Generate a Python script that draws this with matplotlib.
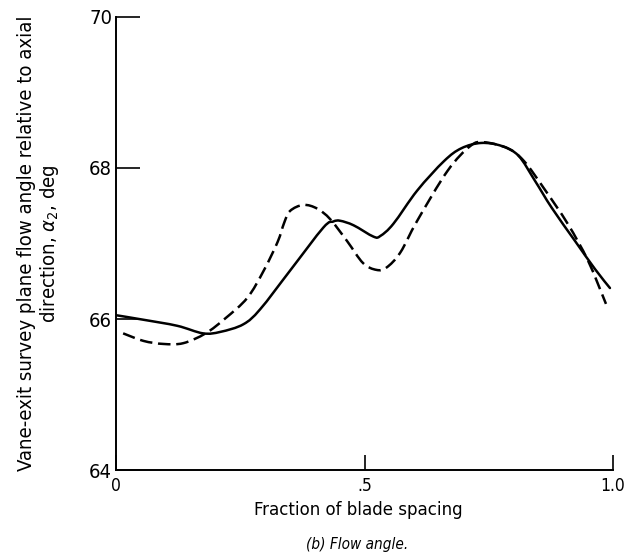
import matplotlib
matplotlib.use("Agg")
import matplotlib.pyplot as plt
import numpy as np
from matplotlib.path import Path
from matplotlib.patches import PathPatch

plt.rcParams['font.family'] = ['DejaVu Sans']
plt.rcParams['font.stretch'] = 'condensed'
plt.rcParams['mathtext.fontset'] = 'custom'
plt.rcParams['mathtext.it'] = 'DejaVu Sans:italic'
plt.rcParams['mathtext.rm'] = 'DejaVu Sans'

# Data
solid_x = [0.0, 0.055, 0.123, 0.175, 0.21, 0.256, 0.29, 0.35, 0.417, 0.437, 0.451,
           0.478, 0.518, 0.532, 0.558, 0.606, 0.66, 0.695, 0.735, 0.776, 0.81, 0.843,
           0.877, 0.924, 0.964, 0.994]
solid_y = [66.05, 65.99, 65.91, 65.81, 65.83, 65.93, 66.13, 66.64, 67.21, 67.29, 67.30,
           67.24, 67.09, 67.10, 67.26, 67.70, 68.09, 68.26, 68.33, 68.29, 68.16, 67.83,
           67.47, 67.03, 66.66, 66.41]
dash_x = [0.014, 0.055, 0.095, 0.135, 0.18, 0.22, 0.264, 0.297, 0.325, 0.338, 0.35,
          0.377, 0.405, 0.431, 0.465, 0.497, 0.524, 0.544, 0.572, 0.606, 0.667, 0.713,
          0.74, 0.788, 0.821, 0.861, 0.909, 0.95, 0.986]
dash_y = [65.81, 65.71, 65.67, 65.68, 65.81, 66.01, 66.28, 66.64, 67.02, 67.27, 67.43,
          67.51, 67.46, 67.32, 67.03, 66.74, 66.65, 66.68, 66.88, 67.30, 67.96, 68.29,
          68.34, 68.26, 68.09, 67.73, 67.26, 66.77, 66.2]
xticks = [0, 0.5, 1.0]
xticklabels = ['0', '.5', '1.0']
yticks = [64, 66, 68, 70]
yticklabels = ['64', '66', '68', '70']


def smooth_path(xs, ys):
    """Catmull-Rom through the data points, expressed as cubic Bezier segments."""
    p = np.column_stack([xs, ys]).astype(float)
    verts = [p[0]]
    codes = [Path.MOVETO]
    n = len(p)
    for i in range(n - 1):
        p0 = p[i - 1] if i > 0 else p[i]
        p1 = p[i]
        p2 = p[i + 1]
        p3 = p[i + 2] if i + 2 < n else p[i + 1]
        c1 = p1 + (p2 - p0) / 6.0
        c2 = p2 - (p3 - p1) / 6.0
        verts += [c1, c2, p2]
        codes += [Path.CURVE4] * 3
    return Path(verts, codes)


fig = plt.figure(figsize=(6.28, 5.59), dpi=100)
ax = fig.add_axes([0.185, 0.159, 0.791, 0.811])
ax.add_patch(PathPatch(smooth_path(solid_x, solid_y), fill=False, edgecolor='black',
                       lw=1.8, capstyle='round', joinstyle='round'))
ax.add_patch(PathPatch(smooth_path(dash_x, dash_y), fill=False, edgecolor='black',
                       lw=1.8, linestyle=(0, (5, 2.3))))
ax.set_xlim(0, 1.0)
ax.set_ylim(64, 70)
for s in ['top', 'right']:
    ax.spines[s].set_visible(False)
for s in ['left', 'bottom']:
    ax.spines[s].set_linewidth(1.4)
ax.set_xticks(xticks)
ax.set_xticklabels(xticklabels, fontsize=12.5)
ax.set_yticks(yticks)
ax.set_yticklabels(yticklabels, fontsize=14.5)
ax.tick_params(axis='y', direction='in', length=17, width=1.2, pad=3)
ax.tick_params(axis='x', direction='in', length=11, width=1.2, pad=5)
ax.set_xlabel('Fraction of blade spacing', fontsize=13.3)
ax.xaxis.set_label_coords(0.487, -0.068)
ax.set_ylabel('Vane-exit survey plane flow angle relative to axial\ndirection, $\\alpha_2$, deg',
              fontsize=14.6, linespacing=1.1)
ax.yaxis.set_label_coords(-0.111, 0.5)
fig.text(0.568, 0.012, '(b) Flow angle.', fontsize=11, style='italic', ha='center', va='bottom')
fig.savefig('out.png', dpi=100)
